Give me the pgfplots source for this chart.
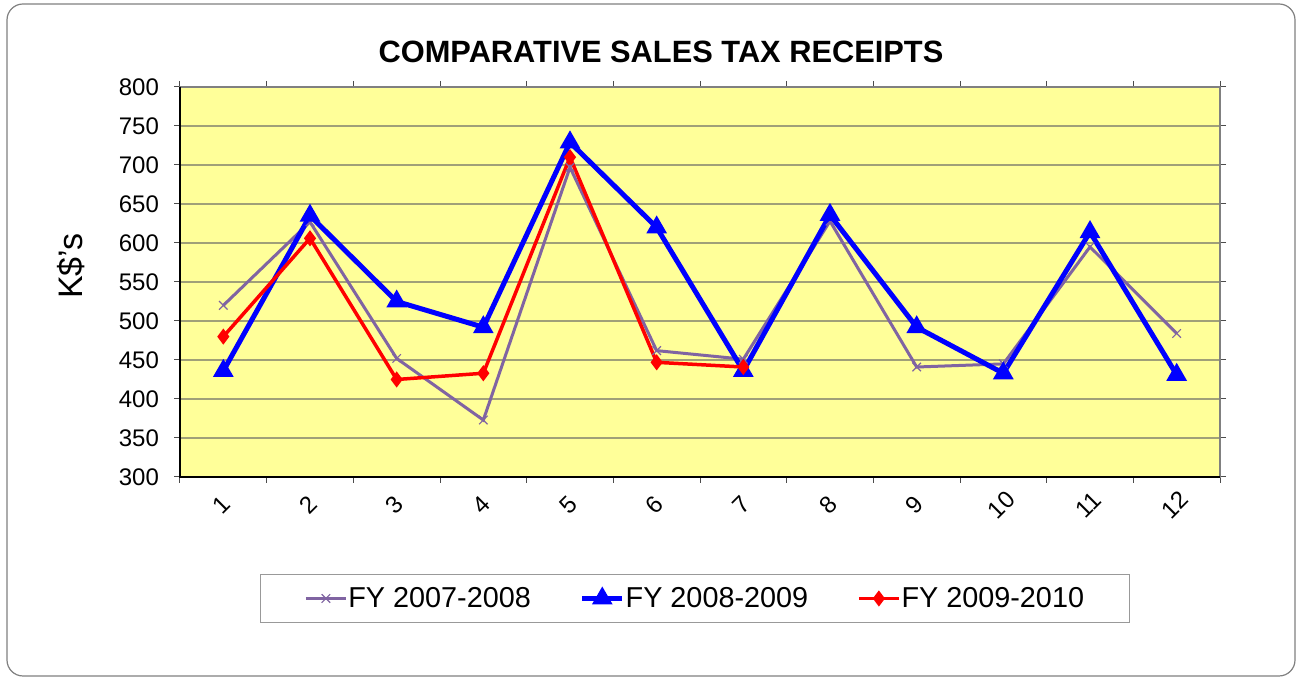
\documentclass[border=0pt]{standalone}
\usepackage{pgfplots}
\pgfplotsset{compat=1.18}
\usepackage{fontspec}
\setmainfont{Liberation Sans}
\definecolor{plotbg}{RGB}{255,255,153}
\definecolor{sone}{RGB}{128,100,162}
\definecolor{gridc}{RGB}{160,160,120}
\begin{document}
\begin{tikzpicture}
\path[use as bounding box] (0,0) rectangle (648.5pt,339pt);
\draw[gray, line width=0.6pt, rounded corners=8pt] (3.5pt,1pt) rectangle (647.5pt,337pt);
\begin{axis}[
  at={(90pt,100.5pt)}, anchor=south west,
  scale only axis, width=520pt, height=195pt,
  xmin=0.5, xmax=12.5, ymin=300, ymax=800,
  xtick={1,...,12}, ytick={300,350,...,800},
  minor xtick={0.5,1.5,...,12.5},
  tick align=outside,
  major x tick style={draw=none},
  minor tick length=3pt, major tick length=3pt,
  tick style={black!70, line width=0.5pt},
  ymajorgrids, grid style={gridc, line width=0.6pt},
  axis background/.style={fill=plotbg},
  axis line style={gray, line width=0.7pt},
  /pgf/number format/assume math mode=true,
  ticklabel style={font=\fontsize{12}{14}\selectfont},
  y tick label style={xshift=-4pt},
  x tick label style={yshift=-11pt, xshift=-1pt, rotate=45, anchor=center},
  title={COMPARATIVE SALES TAX RECEIPTS},
  title style={font=\fontsize{15.4}{18}\selectfont\bfseries, at={(0.4625,1)}, anchor=center, yshift=11.5pt},
  ylabel={K\$'s},
  ylabel style={at={(-0.1048,0.541)}, anchor=center, font=\fontsize{17}{20}\selectfont},
  legend columns=3,
  legend style={at={(0.495,-0.3115)}, anchor=center, draw=gray!80, line width=0.5pt,
    font=\fontsize{14.4}{17}\selectfont, inner xsep=22pt, inner ysep=4pt,
    /tikz/every even column/.append style={column sep=24pt},
    nodes={inner xsep=0.5pt}},
  legend image code/.code={\draw[mark repeat=2,mark phase=2,#1] plot coordinates {(0cm,0cm) (0.35cm,0cm) (0.7cm,0cm)};},
  after end axis/.code={\draw[black, line width=0.7pt] (rel axis cs:0,1) -- (rel axis cs:0,0) -- (rel axis cs:1,0);},
]
\addplot[sone, line width=1.5pt, mark=x, mark size=3pt, mark options={line width=0.6pt}] coordinates {
(1,520) (2,627) (3,452) (4,373) (5,697) (6,462) (7,451) (8,628) (9,441) (10,445) (11,595) (12,484)};
\addlegendentry{FY 2007-2008}
\addplot[blue, line width=2.5pt, mark=triangle*, mark size=3.5pt, mark options={fill=blue}] coordinates {
(1,436) (2,635) (3,525) (4,492) (5,729) (6,620) (7,436) (8,636) (9,492) (10,433) (11,614) (12,431)};
\addlegendentry{FY 2008-2009}
\addplot[red, line width=1.75pt, mark=diamond*, mark size=2.6pt, mark options={fill=red}] coordinates {
(1,480) (2,606) (3,425) (4,433) (5,710) (6,447) (7,441)};
\addlegendentry{FY 2009-2010}
\end{axis}
\end{tikzpicture}
\end{document}
